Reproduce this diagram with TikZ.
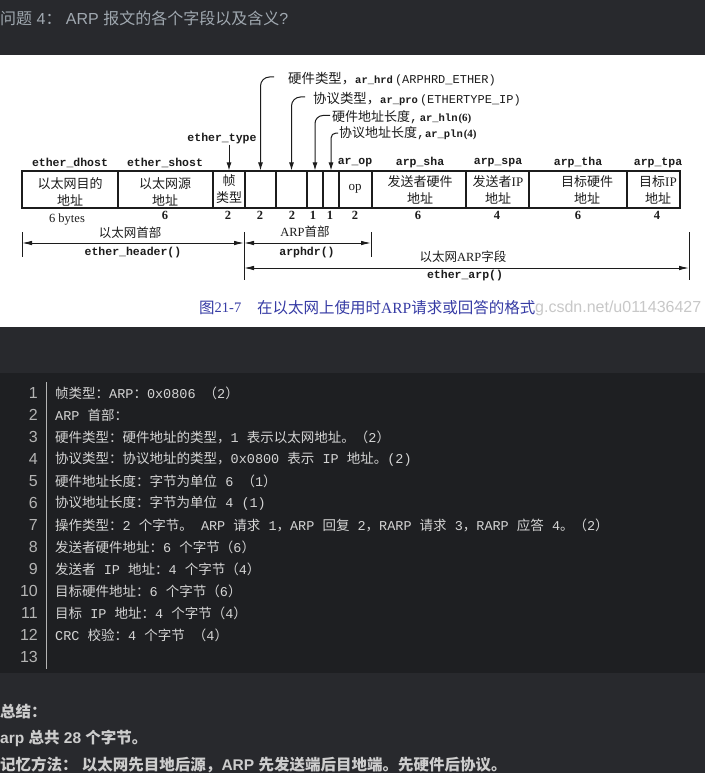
\documentclass[tikz,border=0pt]{standalone}
\usepackage{fontspec}
\setmainfont{Liberation Serif}
\setsansfont{Liberation Sans}
\setmonofont{Liberation Mono}
\newfontfamily\cjkf{Noto Sans CJK SC}
\usetikzlibrary{arrows.meta}
% automatic switch to the CJK font for CJK characters
\XeTeXinterchartokenstate=1
\newXeTeXintercharclass\mycjkclass
\makeatletter
\def\setcjkrange#1#2{\count@=#1\relax\loop\XeTeXcharclass\count@=\mycjkclass\relax\ifnum\count@<#2\relax\advance\count@ by 1\repeat}
\makeatother
\setcjkrange{"3000}{"303F}
\setcjkrange{"4E00}{"9FFF}
\setcjkrange{"FF00}{"FFEF}
\def\latinf{\rmfamily}
\XeTeXinterchartoks 0 \mycjkclass = {\cjkf}
\XeTeXinterchartoks 4095 \mycjkclass = {\cjkf}
\XeTeXinterchartoks \mycjkclass 0 = {\latinf}
\XeTeXinterchartoks \mycjkclass 4095 = {\latinf}
\definecolor{pagebg}{RGB}{40,41,45}
\definecolor{codebg}{RGB}{30,31,34}
\definecolor{titlefg}{RGB}{160,168,176}
\definecolor{codefg}{RGB}{212,212,212}
\definecolor{numfg}{RGB}{180,180,180}
\definecolor{sumfg}{RGB}{205,205,205}
\definecolor{capblue}{RGB}{55,60,165}
\definecolor{wmgray}{RGB}{200,200,200}
\definecolor{figink}{RGB}{28,28,28}
\begin{document}
\begin{tikzpicture}[x=1pt,y=-1pt,
  figt/.style={inner sep=0, text=figink},
  cjkt/.style={figt, align=center, font={\def\latinf{\rmfamily}\rmfamily\fontsize{13}{16.5}\selectfont}},
  lbltxt/.style={figt, font={\def\latinf{\rmfamily}\rmfamily\fontsize{12.5}{14}\selectfont}},
  fld/.style={figt, font={\def\latinf{\ttfamily}\ttfamily\bfseries\fontsize{11.5}{13}\selectfont}},
  num/.style={figt, font={\rmfamily\bfseries\fontsize{12.5}{14}\selectfont}},
  hooklbl/.style={figt, anchor=west, font={\def\latinf{\ttfamily}\ttfamily\fontsize{13.4}{15}\selectfont}},
  lead/.style={draw=figink, line width=1pt, -{Latex[length=8pt,width=5pt]}},
  dimarrow/.style={draw=figink, line width=0.9pt, {Latex[length=10pt,width=4.5pt]}-{Latex[length=10pt,width=4.5pt]}},
  tickline/.style={draw=figink, line width=0.9pt},
  cell/.style={draw=figink, line width=1.2pt, inner sep=0, minimum height=37pt},
  codeln/.style={anchor=west, inner sep=0, text=codefg, font={\def\latinf{\ttfamily}\ttfamily\fontsize{13.5}{16}\selectfont}},
  lnum/.style={anchor=east, inner sep=0, text=numfg, font={\sffamily\fontsize{16}{18}\selectfont}},
  sumt/.style={anchor=west, inner sep=0, text=sumfg, font={\def\latinf{\sffamily\bfseries}\sffamily\bfseries\fontsize{15.5}{18}\selectfont}},
  titlet/.style={anchor=west, inner sep=0, text=titlefg, font={\def\latinf{\sffamily}\sffamily\fontsize{16}{18}\selectfont}},
  capt/.style={anchor=west, inner sep=0, text=capblue, font={\def\latinf{\rmfamily}\rmfamily\fontsize{15.5}{17}\selectfont}},
  wmt/.style={anchor=west, inner sep=0, text=wmgray, font={\sffamily\fontsize{16}{18}\selectfont}},
  sepline/.style={draw=numfg, line width=1pt}]
\useasboundingbox (0,0) rectangle (705,773);
\fill[pagebg] (0,0) rectangle (705,773);
\fill[white] (0,55) rectangle (705,327);
\fill[codebg] (0,373) rectangle (705,673);
% title
\node[titlet] (title) at (0,18) {问题 4： ARP 报文的各个字段以及含义?};
% cells
\node[cell, minimum width=96pt] (c1) at (70,189.5) {};
\node[cell, minimum width=95pt] (c2) at (165.5,189.5) {};
\node[cell, minimum width=32pt] (c3) at (229,189.5) {};
\node[cell, minimum width=31pt] (c4) at (260.5,189.5) {};
\node[cell, minimum width=31pt] (c5) at (291.5,189.5) {};
\node[cell, minimum width=16pt] (c6) at (315,189.5) {};
\node[cell, minimum width=16pt] (c7) at (331,189.5) {};
\node[cell, minimum width=33pt] (c8) at (355.5,189.5) {};
\node[cell, minimum width=94pt] (c9) at (419,189.5) {};
\node[cell, minimum width=63pt] (c10) at (497.5,189.5) {};
\node[cell, minimum width=98pt] (c11) at (578,189.5) {};
\node[cell, minimum width=53pt] (c12) at (653.5,189.5) {};
% cell texts
\node[cjkt] (t1) at (70,192) {以太网目的\\地址};
\node[cjkt] (t2) at (165,192) {以太网源\\地址};
\node[cjkt] (t3) at (229,189) {帧\\类型};
\node[cjkt] (t8) at (355,189) {op};
\node[cjkt] (t9) at (420,190) {发送者硬件\\地址};
\node[cjkt] (t10) at (498,190) {发送者IP\\地址};
\node[cjkt] (t11) at (587,190) {目标硬件\\地址};
\node[cjkt] (t12) at (658,190) {目标IP\\地址};
% field names
\node[fld] (l1) at (70,163) {ether\_dhost};
\node[fld] (l2) at (165,163) {ether\_shost};
\node[fld] (l8) at (355,163) {ar\_op};
\node[fld] (l9) at (420,163) {arp\_sha};
\node[fld] (l10) at (498,163) {arp\_spa};
\node[fld] (l11) at (578,163) {arp\_tha};
\node[fld] (l12) at (658,163) {arp\_tpa};
\node[fld] (ettxt) at (222,139) {ether\_type};
% sizes
\node[lbltxt, font={\rmfamily\fontsize{12.5}{14}\selectfont}] (n1) at (67,220) {6 bytes};
\node[num] (n2) at (165,215) {6};
\node[num] (n3) at (228,215) {2};
\node[num] (n4) at (260,215) {2};
\node[num] (n5) at (292,215) {2};
\node[num] (n6) at (313,215) {1};
\node[num] (n7) at (330,215) {1};
\node[num] (n8) at (355,215) {2};
\node[num] (n9) at (418,215) {6};
\node[num] (n10) at (497,215) {4};
\node[num] (n11) at (578,215) {6};
\node[num] (n12) at (657,215) {4};
% leaders
\draw[lead] (ettxt.south -| c3.north) -- (c3.north);
\coordinate (h1) at (274,77);
\coordinate (h2) at (305,97);
\coordinate (h3) at (330,115.5);
\coordinate (h4) at (338,133);
\draw[lead, rounded corners=9pt] (h1) -| (c4.north);
\draw[lead, rounded corners=9pt] (h2) -| (c5.north);
\draw[lead, rounded corners=8pt] (h3) -| (c6.north);
\draw[lead, rounded corners=5pt] (h4) -| (c7.north);
\node[hooklbl] (hl1) at (288,79) {硬件类型，{\bfseries\fontsize{10.5}{12}\selectfont ar\_hrd}\hspace{2pt}{\fontsize{12}{13}\selectfont(ARPHRD\_ETHER)}};
\node[hooklbl] (hl2) at (313,99) {协议类型，{\bfseries\fontsize{10.5}{12}\selectfont ar\_pro}\hspace{2pt}{\fontsize{12}{13}\selectfont(ETHERTYPE\_IP)}};
\node[hooklbl, font={\def\latinf{\ttfamily}\ttfamily\fontsize{13}{15}\selectfont}] (hl3) at (332,117) {硬件地址长度,{\bfseries\fontsize{10.5}{12}\selectfont\,ar\_hln}\hspace{1pt}{\rmfamily\bfseries\fontsize{11}{12}\selectfont(6)}};
\node[hooklbl, font={\def\latinf{\ttfamily}\ttfamily\fontsize{13}{15}\selectfont}] (hl4) at (339,133) {协议地址长度,{\bfseries\fontsize{10.5}{12}\selectfont ar\_pln}\hspace{1pt}{\rmfamily\bfseries\fontsize{11}{12}\selectfont(4)}};
% dimension lines
\coordinate (tkL1) at (22,232); \coordinate (tkL2) at (22,257);
\coordinate (tkM1) at (244,232); \coordinate (tkM2) at (244,280);
\coordinate (tkA1) at (371,232); \coordinate (tkA2) at (371,257);
\coordinate (tkR1) at (689,232); \coordinate (tkR2) at (689,280);
\draw[tickline] (tkL1) -- (tkL2);
\draw[tickline] (tkM1) -- (tkM2);
\draw[tickline] (tkA1) -- (tkA2);
\draw[tickline] (tkR1) -- (tkR2);
\coordinate (eh1) at (22,243); \coordinate (eh2) at (244,243);
\coordinate (ah2) at (371,243);
\coordinate (ea1) at (244,268); \coordinate (ea2) at (689,268);
\draw[dimarrow] (eh1) -- (eh2);
\draw[dimarrow] (eh2) -- (ah2);
\draw[dimarrow] (ea1) -- (ea2);
\node[lbltxt] (ehtxt) at (130,233) {以太网首部};
\node[fld] (ehfn) at (133,253) {ether\_header()};
\node[lbltxt] (ahtxt) at (305,232) {ARP首部};
\node[fld] (ahfn) at (307,253) {arphdr()};
\node[lbltxt] (eatxt) at (463,257) {以太网ARP字段};
\node[fld] (eafn) at (465,276) {ether\_arp()};
% caption and watermark
\node[capt] (cap0) at (199,308) {图};
\node[capt, font={\rmfamily\fontsize{14.5}{17}\selectfont}] (cap1) at (214.5,308) {21-7};
\node[capt] (cap2) at (257,308) {在以太网上使用时ARP请求或回答的格式};
\node[wmt] (wm) at (535,308) {g.csdn.net/u011436427};
% code block
\coordinate (sp1) at (46,382); \coordinate (sp2) at (46,669);
\draw[sepline] (sp1) -- (sp2);
\node[lnum] (k1) at (38,393) {1};
\node[lnum] (k2) at (38,415) {2};
\node[lnum] (k3) at (38,437) {3};
\node[lnum] (k4) at (38,459) {4};
\node[lnum] (k5) at (38,481) {5};
\node[lnum] (k6) at (38,503) {6};
\node[lnum] (k7) at (38,525) {7};
\node[lnum] (k8) at (38,547) {8};
\node[lnum] (k9) at (38,569) {9};
\node[lnum] (k10) at (38,591) {10};
\node[lnum] (k11) at (38,613) {11};
\node[lnum] (k12) at (38,635) {12};
\node[lnum] (k13) at (38,657) {13};
\node[codeln] (q1) at (55,393) {帧类型：ARP：0x0806 （2）};
\node[codeln] (q2) at (55,415) {ARP 首部：};
\node[codeln] (q3) at (55,437) {硬件类型：硬件地址的类型，1 表示以太网地址。（2）};
\node[codeln] (q4) at (55,459) {协议类型：协议地址的类型，0x0800 表示 IP 地址。(2)};
\node[codeln] (q5) at (55,481) {硬件地址长度：字节为单位 6 （1）};
\node[codeln] (q6) at (55,503) {协议地址长度：字节为单位 4 (1)};
\node[codeln] (q7) at (55,525) {操作类型：2 个字节。 ARP 请求 1，ARP 回复 2，RARP 请求 3，RARP 应答 4。（2）};
\node[codeln] (q8) at (55,547) {发送者硬件地址：6 个字节（6）};
\node[codeln] (q9) at (55,569) {发送者 IP 地址：4 个字节（4）};
\node[codeln] (q10) at (55,591) {目标硬件地址：6 个字节（6）};
\node[codeln] (q11) at (55,613) {目标 IP 地址：4 个字节（4）};
\node[codeln] (q12) at (55,635) {CRC 校验：4 个字节 （4）};
% summary
\node[sumt] (s1) at (0,712) {总结：};
\node[sumt] (s2) at (0,738) {arp 总共 28 个字节。};
\node[sumt] (s3) at (0,765) {记忆方法： 以太网先目地后源，ARP 先发送端后目地端。先硬件后协议。};
\end{tikzpicture}
\end{document}
